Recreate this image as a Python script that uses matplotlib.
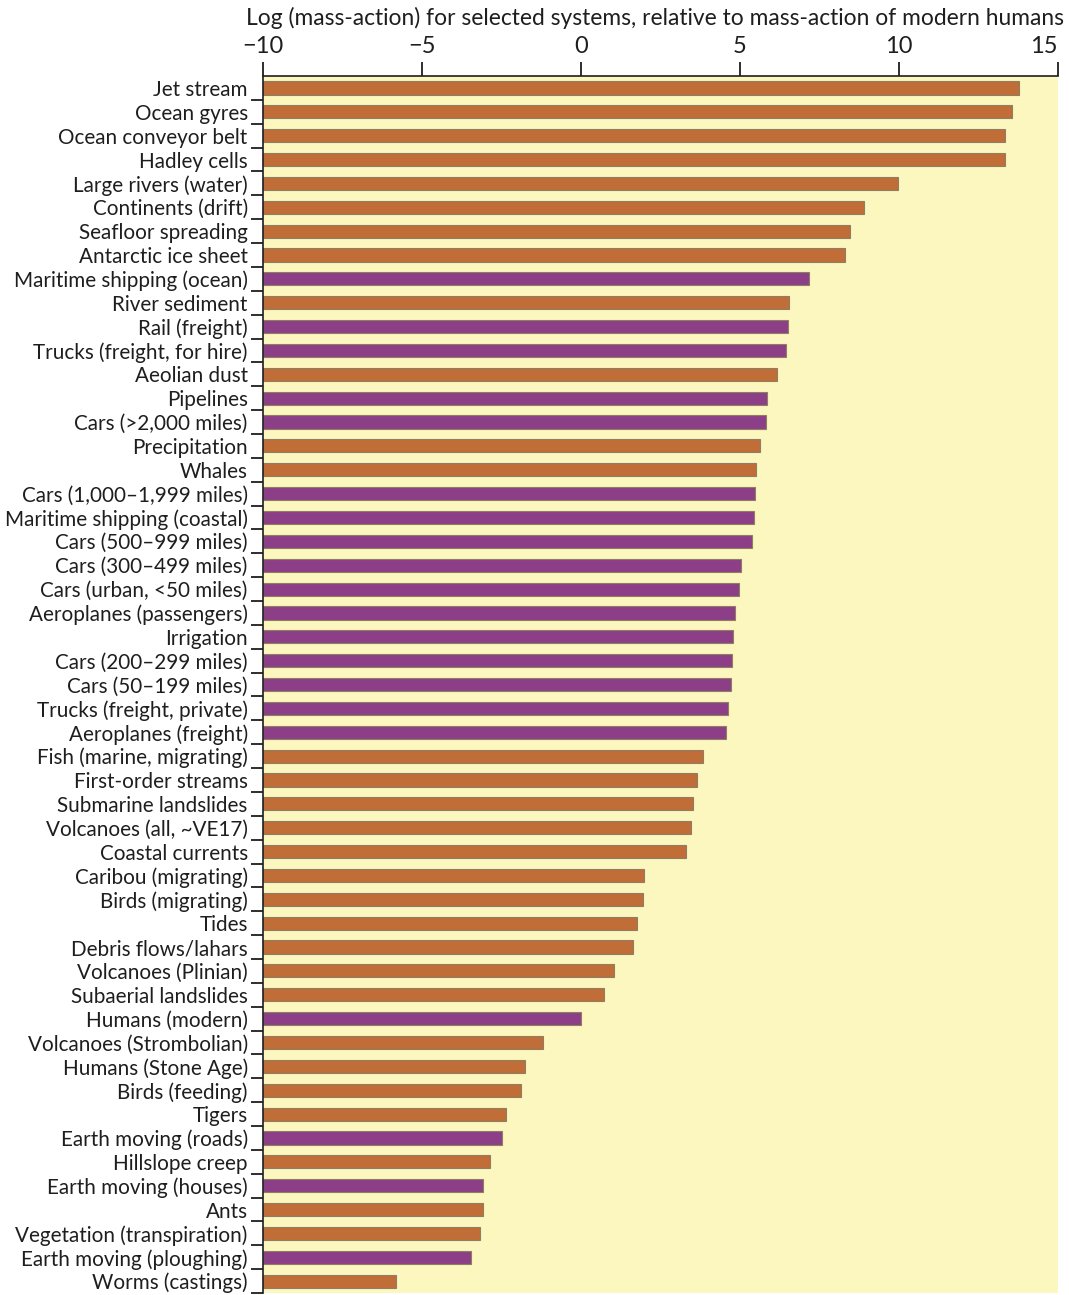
import matplotlib
matplotlib.use("Agg")
import matplotlib.pyplot as plt
import numpy as np

plt.rcParams['font.family'] = ['Lato', 'DejaVu Sans']

systems = [
    "Jet stream", "Ocean gyres", "Ocean conveyor belt", "Hadley cells",
    "Large rivers (water)", "Continents (drift)", "Seafloor spreading",
    "Antarctic ice sheet", "Maritime shipping (ocean)", "River sediment",
    "Rail (freight)", "Trucks (freight, for hire)", "Aeolian dust", "Pipelines",
    "Cars (>2,000 miles)", "Precipitation", "Whales", "Cars (1,000–1,999 miles)",
    "Maritime shipping (coastal)", "Cars (500–999 miles)", "Cars (300–499 miles)",
    "Cars (urban, <50 miles)", "Aeroplanes (passengers)", "Irrigation",
    "Cars (200–299 miles)", "Cars (50–199 miles)", "Trucks (freight, private)",
    "Aeroplanes (freight)", "Fish (marine, migrating)", "First-order streams",
    "Submarine landslides", "Volcanoes (all, ~VE17)", "Coastal currents",
    "Caribou (migrating)", "Birds (migrating)", "Tides", "Debris flows/lahars",
    "Volcanoes (Plinian)", "Subaerial landslides", "Humans (modern)",
    "Volcanoes (Strombolian)", "Humans (Stone Age)", "Birds (feeding)", "Tigers",
    "Earth moving (roads)", "Hillslope creep", "Earth moving (houses)", "Ants",
    "Vegetation (transpiration)", "Earth moving (ploughing)", "Worms (castings)",
]

log_mass_action = [
    13.77, 13.55, 13.33, 13.33,
    9.97, 8.90, 8.46,
    8.30, 7.17, 6.54,
    6.51, 6.45, 6.16, 5.85,
    5.82, 5.63, 5.50, 5.47,
    5.44, 5.38, 5.03,
    4.97, 4.84, 4.78,
    4.75, 4.72, 4.62,
    4.56, 3.84, 3.65,
    3.52, 3.46, 3.30,
    1.98, 1.95, 1.76, 1.64,
    1.04, 0.72, 0.00,
    -1.19, -1.76, -1.90, -2.36,
    -2.49, -2.86, -3.08, -3.08,
    -3.18, -3.46, -5.82,
]

# systems driven by people
human = {
    "Maritime shipping (ocean)", "Rail (freight)", "Trucks (freight, for hire)",
    "Pipelines", "Cars (>2,000 miles)", "Cars (1,000–1,999 miles)",
    "Maritime shipping (coastal)", "Cars (500–999 miles)", "Cars (300–499 miles)",
    "Cars (urban, <50 miles)", "Aeroplanes (passengers)", "Irrigation",
    "Cars (200–299 miles)", "Cars (50–199 miles)", "Trucks (freight, private)",
    "Aeroplanes (freight)", "Humans (modern)", "Earth moving (roads)",
    "Earth moving (houses)", "Earth moving (ploughing)",
}

ORANGE = "#c06d38"
PURPLE = "#8c3f86"
BG = "#fcf6bf"
INK = "#1e1e1e"

x_min = -10
colors = [PURPLE if s in human else ORANGE for s in systems]
y = np.arange(len(systems))
widths = np.array(log_mass_action) - x_min

fig = plt.figure(figsize=(10.69, 12.95), dpi=100)
ax = fig.add_axes([0.246, 0.0015, 0.7437, 0.9398])
ax.set_facecolor(BG)

ax.barh(y, widths, left=x_min, height=0.55, color=colors,
        edgecolor="#8f7f62", linewidth=0.8)

ax.set_xlim(-10, 15)
ax.set_ylim(len(systems) - 0.5, -0.5)

ax.xaxis.tick_top()
ax.set_xticks([-10, -5, 0, 5, 10, 15])
ax.set_xticklabels(["\u221210", "\u22125", "0", "5", "10", "15"])
ax.tick_params(axis="x", direction="out", length=10, width=1.3, colors=INK,
               labelsize=17, pad=4)
# pull the last tick label in so it stays on the canvas
ax.get_xticklabels()[-1].set_ha("right")

fig.text(0.613, 0.986,
         "Log (mass-action) for selected systems, relative to mass-action of modern humans",
         fontsize=16.4, color=INK, ha="center", va="center")

ax.set_yticks(y)
ax.set_yticklabels(systems)
ax.tick_params(axis="y", which="major", length=0, labelsize=14.9, colors=INK, pad=11)
ax.set_yticks(np.arange(len(systems)) + 0.5, minor=True)
ax.tick_params(axis="y", which="minor", direction="out", length=9, width=1.3, color=INK)

for side in ["right", "bottom"]:
    ax.spines[side].set_visible(False)
ax.spines["left"].set_color(INK)
ax.spines["left"].set_linewidth(1.2)
ax.spines["top"].set_color(INK)
ax.spines["top"].set_linewidth(1.2)

fig.savefig("out.png", dpi=100)
